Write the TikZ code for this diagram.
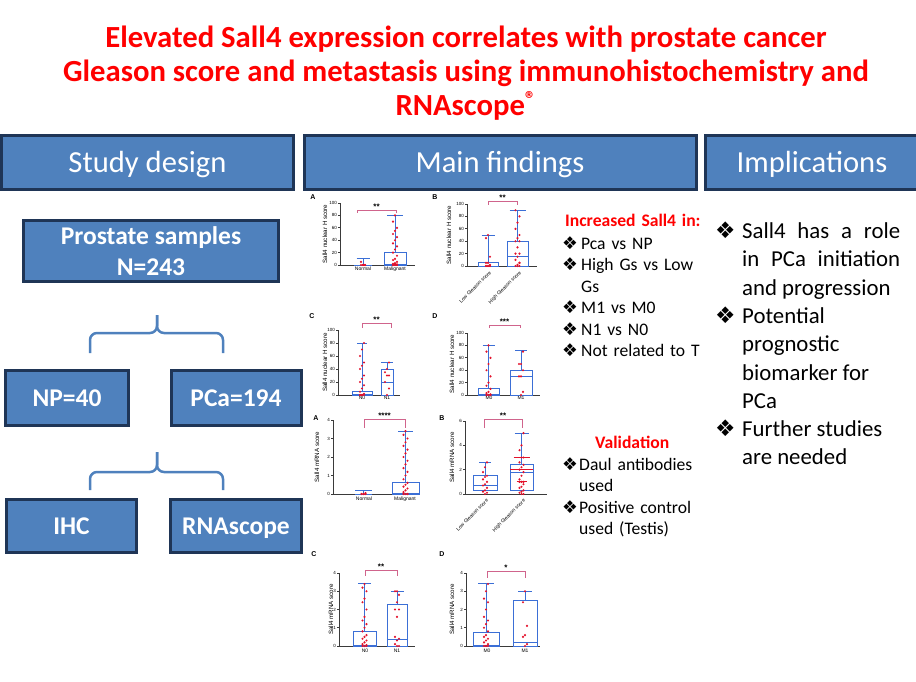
\documentclass[tikz,border=0pt]{standalone}
\usepackage{fontspec}
\setmainfont{Carlito}
\newfontfamily\symfnt{DejaVu Sans}
\newfontfamily\chartfnt{Liberation Sans}
\usepackage{xcolor}
\usepackage{tikz}
\usetikzlibrary{positioning}

\definecolor{hdrblue}{HTML}{4F81BD}
\definecolor{hdrline}{HTML}{1F3556}
\definecolor{titlered}{HTML}{FF0000}
\definecolor{plotblue}{HTML}{3B6FD6}
\definecolor{dotred}{HTML}{E3122B}
\definecolor{sigpink}{HTML}{D0648C}
\definecolor{axisgray}{HTML}{3A3A3A}

\newcommand{\bulsym}{{\symfnt ❖}}
\newcommand{\bitem}[2]{\par\noindent\hangindent=#1\hangafter=1\makebox[#1][l]{\bulsym}#2\par}
\newcommand{\yaxis}[3]{%
  \draw[axl] (0,#1) -- (0,0) -- (#3,0);
  \foreach \t in {0,#2,...,#1} \draw[axl] (0,\t) -- (-2,\t) node[left,tickl] {\t};}
\newcommand{\boxp}[7]{%
  \draw[pbox] ({#1-#2},#3) rectangle ({#1+#2},#5);
  \draw[pbox] ({#1-#2},#4) -- ({#1+#2},#4);
  \draw[pbox] (#1,#5) -- (#1,#6);
  \draw[pbox] ({#1-#7},#6) -- ({#1+#7},#6);}
\newcommand{\redpts}[2]{%
  \foreach \v [count=\i] in {#2} \fill[dotred] ({#1+2*mod(\i,3)-2},\v) circle (1.2pt);}
\newcommand{\sigbar}[5]{%
  \draw[sigl] (#1,#3) -- (#1,#4) -- (#2,#4) -- (#2,#3);
  \node[stars] at ({(#1+#2)/2},#4) {#5};}

\begin{document}
\begin{tikzpicture}[x=1pt,y=-1pt,
  hdr/.style={draw=hdrline,line width=3pt,fill=hdrblue,text=white,minimum height=54pt,text height=21pt,text depth=1.4pt,font=\fontsize{30.6}{36}\selectfont},
  sbox/.style={draw=hdrline,line width=3pt,fill=hdrblue,text=white,align=center,font=\bfseries\fontsize{25.5}{31}\selectfont},
  onel/.style={text height=18pt,text depth=1.6pt},
  brc/.style={draw=hdrblue,line width=2.5pt,rounded corners=7pt},
  pbox/.style={draw=plotblue,line width=1pt},
  axl/.style={draw=axisgray,line width=0.7pt},
  sigl/.style={draw=sigpink,line width=0.9pt},
  tickl/.style={font=\chartfnt\fontsize{4.5}{5}\selectfont,inner sep=0.8pt},
  grpl/.style={font=\chartfnt\fontsize{5}{6}\selectfont,inner sep=1.2pt},
  ylab/.style={font=\chartfnt\fontsize{6.2}{7}\selectfont,rotate=90,inner sep=0pt},
  pletter/.style={font=\chartfnt\bfseries\fontsize{7}{8}\selectfont,inner sep=0pt},
  stars/.style={font=\chartfnt\bfseries\fontsize{8}{8}\selectfont,anchor=south,inner sep=0pt,yshift=0.5pt},
  txtblk/.style={anchor=north west,inner sep=0pt}]
\useasboundingbox (0,0) rectangle (916,681);

\node[font=\bfseries\fontsize{30.7}{34}\selectfont,text=titlered,align=center,inner sep=0pt,anchor=north] (title) at (466,26)
  {Elevated Sall4 expression correlates with prostate cancer\\Gleason score and metastasis using immunohistochemistry and\\RNAscope\textsuperscript{®}};

\node[hdr,minimum width=292pt] (design) at (147.5,162.5) {Study design};
\node[hdr,minimum width=392pt] (findings) at (500,162.5) {Main findings};
\node[hdr,minimum width=213pt] (impl) at (812,162.5) {Implications};

\node[sbox,minimum width=255pt,minimum height=61pt] (samples) at (151,251) {Prostate samples\\N=243};
\node[sbox,onel,minimum width=123pt,minimum height=55pt] (np) at (67,398) {NP=40};
\node[sbox,onel,minimum width=130pt,minimum height=55pt] (pca) [right of=np,node distance=169pt] {PCa=194};
\node[sbox,onel,minimum width=130pt,minimum height=53pt] (ihc) at (71.5,526) {IHC};
\node[sbox,onel,minimum width=131pt,minimum height=53pt] (rnascope) [right of=ihc,node distance=164.5pt] {RNAscope};

\coordinate (b1t) at (157,315);
\coordinate (b1m) at (157,333);
\coordinate (b1l) at (90,353);
\coordinate (b1r) at (223,353);
\draw[brc] (b1l) |- (b1m) -- (b1t);
\draw[brc] (b1r) |- (b1m) -- (b1t);
\coordinate (b2t) at (157,452);
\coordinate (b2m) at (157,472);
\coordinate (b2l) at (90,490);
\coordinate (b2r) at (223,490);
\draw[brc] (b2l) |- (b2m) -- (b2t);
\draw[brc] (b2r) |- (b2m) -- (b2t);

\node[txtblk,text width=150pt,align=left,font=\fontsize{17.6}{21.5}\selectfont] (increased) at (562,214) {%
  \hspace*{3pt}{\color{titlered}\bfseries Increased Sall4 in:}\par\vspace{1pt}
  \bitem{19pt}{Pca vs NP}
  \bitem{19pt}{High Gs vs Low\newline Gs}
  \bitem{19pt}{M1 vs M0}
  \bitem{19pt}{N1 vs N0}
  \bitem{19pt}{Not related to T}};

\node[txtblk,text width=140pt,align=left,font=\fontsize{17.6}{21.5}\selectfont] (validation) at (562,436) {%
  \centerline{\color{titlered}\bfseries Validation}\par
  \bitem{17pt}{Daul antibodies\newline used}
  \bitem{17pt}{Positive control\newline used (Testis)}};

\node[txtblk,text width=185pt,align=justify,font=\fontsize{22.8}{28.3}\selectfont] (implications) at (715,210) {%
  \bitem{27pt}{Sall4 has a role in PCa initiation and progression}
  \raggedright
  \bitem{27pt}{Potential\newline prognostic\newline biomarker for\newline PCa}
  \bitem{27pt}{Further studies\newline are needed}};

\begin{scope}[shift={(340,265)},y=0.62pt]
  \node[pletter] (ihcA) at (-27,110) {A};
  \yaxis{100}{20}{75}
  \node[ylab] (ihcAy) at (-15,50) {Sall4 nuclear H score};
  \node[grpl,below] (ihcAg1) at (23,0) {Normal};
  \node[grpl,below] (ihcAg2) at (55,0) {Malignant};
  \boxp{23}{9}{0}{0}{0}{10}{6.5}
  \boxp{55}{11}{0}{1}{20}{80}{8}
  \redpts{23}{0,0,0,0,0,5,0,0}
  \redpts{55}{0,0,0,0,1,2,3,5,8,10,15,20,25,30,35,40,45,50,55,60,70,80,0,0,2}
  \sigbar{17}{56}{84}{88.7}{**}
\end{scope}

\begin{scope}[shift={(467,266)},y=0.62pt]
  \node[pletter] (ihcB) at (-32,111) {B};
  \yaxis{100}{20}{70}
  \node[ylab] (ihcBy) at (-18,50) {Sall4 nuclear H score};
  \node[grpl,rotate=45,anchor=north east] (ihcBg1) at (22,-4) {Low Gleason score};
  \node[grpl,rotate=45,anchor=north east] (ihcBg2) at (52,-4) {High Gleason score};
  \boxp{21}{10}{0}{0}{5}{50}{6.5}
  \boxp{50.5}{10.5}{0}{15}{40}{90}{8}
  \redpts{21}{0,0,0,0,2,5,5,15,45,50,0,0}
  \redpts{50.5}{0,0,0,2,5,10,15,20,20,30,40,40,45,50,60,70,80,90,0,5}
  \sigbar{21}{50}{98.4}{104.8}{**}
\end{scope}

\begin{scope}[shift={(338,395)},y=0.65pt]
  \node[pletter] (ihcC) at (-26,121) {C};
  \yaxis{100}{20}{62}
  \node[ylab] (ihcCy) at (-13,50) {Sall4 nuclear H score};
  \node[grpl,below] (ihcCg1) at (24,0) {N0};
  \node[grpl,below] (ihcCg2) at (49,0) {N1};
  \boxp{24}{10}{0}{1}{5}{80}{5}
  \boxp{49}{6}{0}{20}{40}{50}{6}
  \redpts{24}{0,0,0,0,2,5,10,15,20,25,30,40,45,50,60,70,80,0,0}
  \redpts{49}{0,10,20,30,30,35,40,50}
  \sigbar{24}{53}{103}{110.8}{**}
\end{scope}

\begin{scope}[shift={(467,395)},y=0.62pt]
  \node[pletter] (ihcD) at (-32,127) {D};
  \yaxis{100}{20}{73}
  \node[ylab] (ihcDy) at (-15,50) {Sall4 nuclear H score};
  \node[grpl,below] (ihcDg1) at (22,0) {M0};
  \node[grpl,below] (ihcDg2) at (54,0) {M1};
  \boxp{21.5}{10.5}{0}{1}{10}{80}{6}
  \boxp{54}{11}{0}{30}{40}{72}{6}
  \redpts{21.5}{0,0,0,0,1,3,5,10,15,20,30,40,50,60,70,80,0,0}
  \redpts{54}{0,5,30,30,40,50,50,70}
  \sigbar{22}{53}{108}{112.9}{***}
\end{scope}

\begin{scope}[shift={(333,494)},y=18.5pt]
  \node[pletter] (rnaA) at (-17,4.1) {A};
  \yaxis{4}{1}{87}
  \node[ylab] (rnaAy) at (-16,2) {Sall4 mRNA score};
  \node[grpl,below] (rnaAg1) at (31,-0.1) {Normal};
  \node[grpl,below] (rnaAg2) at (72,-0.1) {Malignant};
  \boxp{30.5}{8.5}{0}{0}{0}{0.2}{8.5}
  \boxp{72.5}{13.5}{0}{0.05}{0.6}{3.4}{7.5}
  \redpts{30.5}{0,0,0,0,0,0,0,0.05}
  \redpts{72.5}{0,0,0,0,0,0.1,0.2,0.3,0.4,0.5,0.6,0.8,1.0,1.2,1.4,1.6,1.8,2.0,2.2,2.4,2.6,2.8,3.0,3.2,3.4,0,0}
  \sigbar{31}{72}{3.57}{4.05}{****}
\end{scope}

\begin{scope}[shift={(465,494)},y=12.17pt]
  \node[pletter] (rnaB) at (-23,6.24) {B};
  \yaxis{6}{2}{82}
  \node[ylab] (rnaBy) at (-13,3) {Sall4 mRNA score};
  \node[grpl,rotate=45,anchor=north east] (rnaBg1) at (21,-0.2) {Low Gleason score};
  \node[grpl,rotate=45,anchor=north east] (rnaBg2) at (58,-0.2) {High Gleason score};
  \boxp{20}{12}{0.25}{0.7}{1.5}{2.6}{6}
  \boxp{56.5}{11.5}{0.25}{1.8}{2.4}{5.0}{7}
  \draw[dotred,line width=1pt] (45,2) -- (68,2) (48.5,3) -- (64.5,3) (51.5,1) -- (61.5,1);
  \redpts{20}{0,0.1,0.2,0.3,0.5,0.7,0.8,1.0,1.2,1.4,1.5,1.8,2.2,2.6}
  \redpts{56.5}{0,0,0.1,0.2,0.3,0.5,0.6,0.8,1.0,1.0,1.0,1.2,1.5,1.8,2.0,2.2,2.4,2.6,3.0,3.0,3.6,4.0,5.0}
  \sigbar{19}{57}{5.42}{6.16}{**}
\end{scope}

\begin{scope}[shift={(339,646)},y=18.25pt]
  \node[pletter] (rnaC) at (-25,5.04) {C};
  \yaxis{4}{1}{76}
  \node[ylab] (rnaCy) at (-8,2) {Sall4 mRNA score};
  \node[grpl,below] (rnaCg1) at (26,-0.1) {N0};
  \node[grpl,below] (rnaCg2) at (58,-0.1) {N1};
  \boxp{25.5}{11.5}{0}{0.02}{0.8}{3.4}{6.5}
  \boxp{58}{10}{0}{0.35}{2.3}{3.0}{6.5}
  \redpts{25.5}{0,0,0,0,0.05,0.1,0.2,0.3,0.4,0.5,0.6,0.8,1.0,1.2,1.4,1.6,2.0,2.4,2.6,3.0,3.2,3.4}
  \redpts{58}{0,0,0.1,0.3,0.4,0.5,1.6,2.0,2.0,2.4,2.8,3.0,3.0}
  \sigbar{26}{58}{3.84}{4.16}{**}
\end{scope}

\begin{scope}[shift={(466,646)},y=18.25pt]
  \node[pletter] (rnaD) at (-24,5.04) {D};
  \yaxis{4}{1}{74}
  \node[ylab] (rnaDy) at (-14,2) {Sall4 mRNA score};
  \node[grpl,below] (rnaDg1) at (21,-0.1) {M0};
  \node[grpl,below] (rnaDg2) at (59,-0.1) {M1};
  \boxp{20}{13}{0}{0.02}{0.75}{3.4}{8}
  \boxp{59}{12}{0}{0.2}{2.5}{3.0}{7}
  \redpts{20}{0,0,0,0,0.1,0.2,0.3,0.4,0.5,0.6,0.8,1.0,1.2,1.4,1.6,2.0,2.4,2.6,3.0,3.4}
  \redpts{59}{0,0.1,0.5,0.6,1.1,2.4,3.0}
  \sigbar{21}{59}{3.73}{4.11}{*}
\end{scope}
\end{tikzpicture}
\end{document}
